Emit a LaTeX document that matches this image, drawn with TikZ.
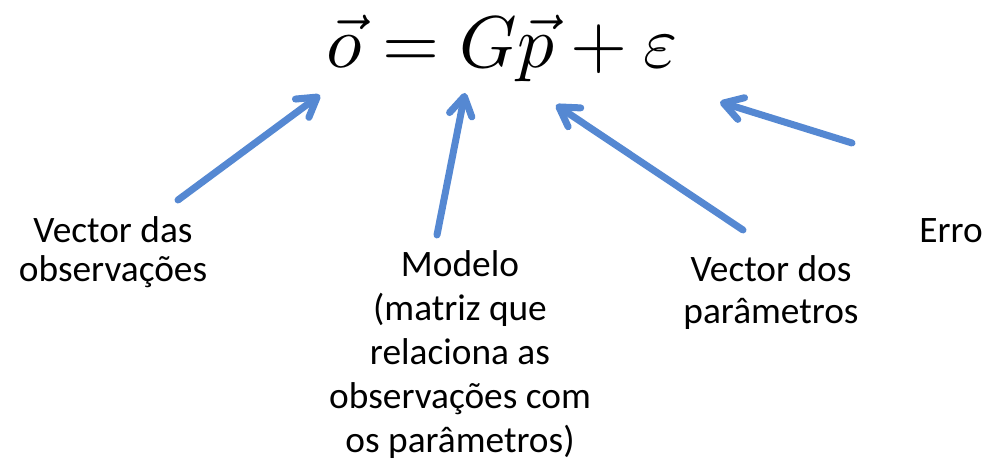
\documentclass[tikz,border=0pt]{standalone}
\usepackage{fontspec}
\newfontfamily\lblfont{Carlito}
\usetikzlibrary{arrows.meta}
\definecolor{arrowblue}{RGB}{85,136,210}
\begin{document}
\begin{tikzpicture}[x=0.75pt,y=-0.75pt,
  lbl/.style={font=\lblfont\fontsize{28}{28.5}\selectfont, align=center, inner sep=0pt, anchor=base},
  ptr/.style={draw=arrowblue, line width=5.25pt, line cap=round,
    -{Straight Barb[length=14pt,width=17pt,line cap=round,line join=round]}}]
\useasboundingbox (0,0) rectangle (1002,463);
\node[anchor=base, inner sep=0pt] (eq) at (502,68) {\scalebox{5.5}{$\vec{o} = G\vec{p} + \varepsilon$}};
\node[lbl] (obs) at (113,281) {Vector das\\observações};
\node[lbl, font=\lblfont\fontsize{28}{33}\selectfont] (mod) at (460,452) {Modelo\\(matriz que\\relaciona as\\observações com\\os parâmetros)};
\node[lbl, font=\lblfont\fontsize{28}{31}\selectfont] (par) at (771,323) {Vector dos\\parâmetros};
\node[lbl] (err) at (951,243) {Erro};
\coordinate (t1) at (178,200); \coordinate (h1) at (320,95);
\coordinate (t2) at (437,235); \coordinate (h2) at (465,93);
\coordinate (t3) at (743,230); \coordinate (h3) at (556,105);
\coordinate (t4) at (852,143); \coordinate (h4) at (720,102);
\draw[ptr] (t1) -- (h1);
\draw[ptr] (t2) -- (h2);
\draw[ptr] (t3) -- (h3);
\draw[ptr] (t4) -- (h4);
\end{tikzpicture}
\end{document}
